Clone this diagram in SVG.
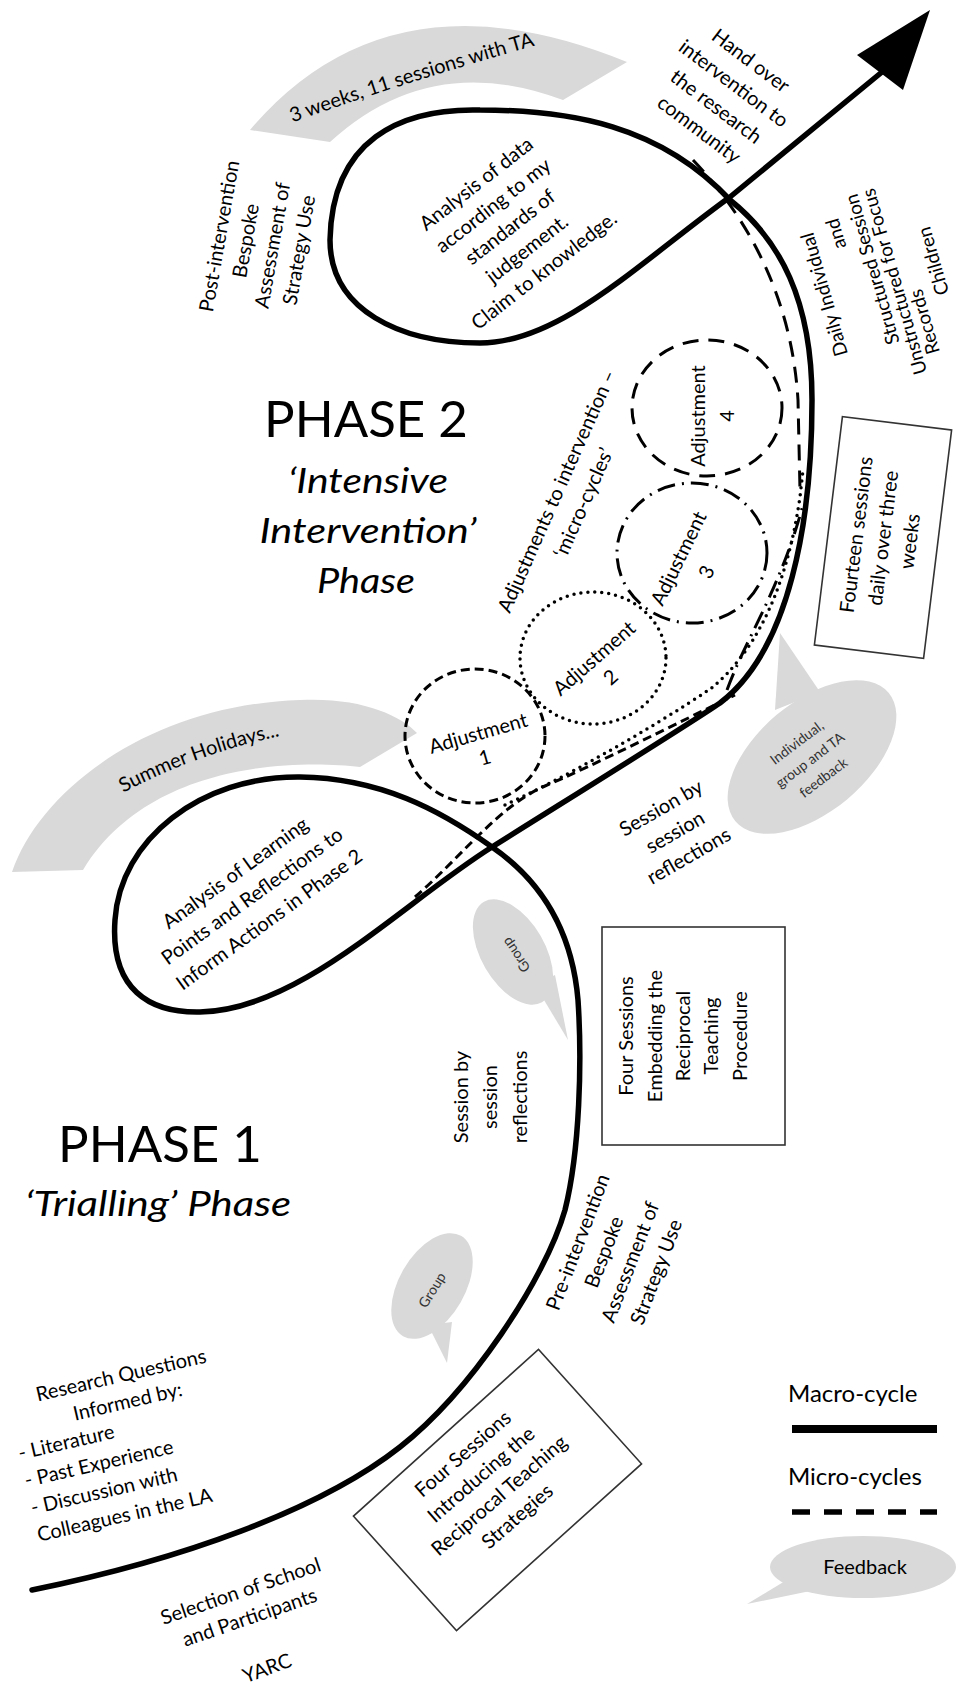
<svg xmlns="http://www.w3.org/2000/svg" width="958" height="1686" viewBox="0 0 958 1686">
<style>
text{font-family:Lato,"Liberation Sans",sans-serif;fill:#000}
.t{font-size:20px;text-anchor:middle}
.tl{font-size:20px}
.big{font-size:51px;text-anchor:middle}
.it{font-size:35px;font-style:italic;text-anchor:middle}
.sm{font-size:14px;text-anchor:middle;fill:#333}
.gray{fill:#d9d9d9}
.macro{fill:none;stroke:#000;stroke-width:5.5;stroke-linejoin:round;stroke-linecap:round}
.box{fill:#fff;stroke:#333;stroke-width:1.6}
.m{fill:none;stroke:#000;stroke-width:3}
.d1{stroke-dasharray:9 5}
.d2{stroke-dasharray:0 7;stroke-linecap:round;stroke-width:3.5}
.d3{stroke-dasharray:18 7 2 7}
.d4{stroke-dasharray:16 10}
</style>
<defs>
<path id="arcTop" d="M280,127 Q410,80 548,42"/>
<path id="arcSummer" d="M110,800 Q195,752 295,733"/>
</defs>

<g id="band-top">
<path class="gray" d="M250,130 Q390,-35 627,62 L563,100 Q430,50 330,142 Z"/>
<text class="t"><textPath href="#arcTop" startOffset="50%">3 weeks, 11 sessions with TA</textPath></text>
</g>

<g id="band-summer">
<path class="gray" d="M12,872 C40,790 150,705 300,700 C360,697 400,715 417,733 L360,767 C300,760 150,760 83,870 Z"/>
<text class="t"><textPath href="#arcSummer" startOffset="50%">Summer Holidays...</textPath></text>
</g>

<g id="bubble-feedback-main">
<ellipse class="gray" cx="812" cy="757" rx="100" ry="55" transform="rotate(-40 812 757)"/>
<polygon class="gray" points="775,710 780,633 820,692"/>
<g transform="translate(810,760) rotate(-37)">
<text class="sm" y="-17">Individual,</text>
<text class="sm" y="5">group and TA</text>
<text class="sm" y="27">feedback</text>
</g>
</g>

<g id="bubble-group-upper">
<ellipse class="gray" cx="513" cy="952" rx="58" ry="32" transform="rotate(60 513 952)"/>
<polygon class="gray" points="535,985 568,1040 555,975"/>
<text class="sm" transform="translate(516,955) rotate(-124)" y="5">Group</text>
</g>

<g id="bubble-group-lower">
<ellipse class="gray" cx="432" cy="1286" rx="58" ry="33" transform="rotate(-60 432 1286)"/>
<polygon class="gray" points="428,1325 447,1363 452,1322"/>
<text class="sm" transform="translate(432,1290) rotate(-58)" y="5">Group</text>
</g>

<g id="connectors">
<path class="macro" d="M32,1590 C180,1560 320,1510 400,1447 C470,1392 545,1280 565,1210 C580,1150 582,1060 578,1000 C572,930 540,880 492,847 C440,810 380,778 300,777 C200,776 120,840 115,920 C110,990 150,1013 200,1012 C300,1010 400,905 492,847 C570,798 680,730 720,703 C790,650 812,520 812,400 C812,300 780,240 730,200 C660,125 570,110 480,110 C400,108 332,140 330,240 C330,310 400,343 480,343 C560,343 640,262 730,197 L882,72"/>
<polygon points="930,10 857,55 903,90" fill="#000"/>
<path class="m d1" d="M415,897 C460,858 500,805 545,786 S680,722 735,695"/>
<path class="m d2" d="M505,805 C560,780 650,730 713,687 C750,655 785,600 800,497 L803,470"/>
<path class="m d3" d="M727,690 C745,640 780,590 803,505"/>
<path class="m d4" d="M693,160 C750,220 792,300 798,400 L800,490"/>
</g>

<g id="adj1">
<ellipse class="m d1" cx="475" cy="736" rx="70" ry="67"/>
<g transform="translate(480,740) rotate(-16)">
<text class="t" y="0">Adjustment</text>
<text class="t" y="25">1</text>
</g>
</g>
<g id="adj2">
<ellipse class="m d2" cx="593" cy="658" rx="73" ry="66"/>
<g transform="translate(600,665) rotate(-41)">
<text class="t" y="-2">Adjustment</text>
<text class="t" y="23">2</text>
</g>
</g>
<g id="adj3">
<ellipse class="m d3" cx="692" cy="553" rx="75" ry="70"/>
<g transform="translate(692,565) rotate(-64)">
<text class="t" y="-8">Adjustment</text>
<text class="t" y="23">3</text>
</g>
</g>
<g id="adj4">
<ellipse class="m d4" cx="707" cy="408" rx="75" ry="68"/>
<g transform="translate(712,416) rotate(-90)">
<text class="t" y="-7">Adjustment</text>
<text class="t" y="22">4</text>
</g>
</g>

<g id="post-intervention" transform="translate(259,243) rotate(-80)">
<text class="t" y="-33.5">Post-intervention</text>
<text class="t" y="-6.5">Bespoke</text>
<text class="t" y="20.5">Assessment of</text>
<text class="t" y="47.5">Strategy Use</text>
</g>

<g id="analysis-data" transform="translate(510,227) rotate(-38)">
<text class="t" y="-48">Analysis of data</text>
<text class="t" y="-20.5">according to my</text>
<text class="t" y="7">standards of</text>
<text class="t" y="34.5">judgement.</text>
<text class="t" y="62">Claim to knowledge.</text>
</g>

<g id="hand-over" transform="translate(725,95) rotate(37)">
<text class="t" y="-36">Hand over</text>
<text class="t" y="-7.5">intervention to</text>
<text class="t" y="21.5">the research</text>
<text class="t" y="50">community</text>
</g>

<g id="daily-records" transform="translate(878,277) rotate(-106)" style="font-size:19px">
<text class="t" style="font-size:19px" x="-2" y="-50">Daily Individual</text>
<text class="t" style="font-size:19px" x="53" y="-22">and</text>
<text class="t" style="font-size:19px" x="9" y="3">Structured Session</text>
<text class="t" style="font-size:19px" x="-9" y="21">Unstructured for Focus</text>
<text class="t" style="font-size:19px" x="-56" y="39">Records</text>
<text class="t" style="font-size:19px" x="0" y="64">Children</text>
</g>

<g id="phase2">
<text class="big" x="366" y="437">PHASE 2</text>
<text class="it" x="368" y="493" textLength="160" lengthAdjust="spacingAndGlyphs">‘Intensive</text>
<text class="it" x="368" y="543" textLength="217" lengthAdjust="spacingAndGlyphs">Intervention’</text>
<text class="it" x="366" y="593" textLength="98" lengthAdjust="spacingAndGlyphs">Phase</text>
</g>

<g id="adjustments-label" transform="translate(570,497) rotate(-66)">
<text class="t" y="-7.5">Adjustments to intervention –</text>
<text class="t" y="21.5">‘micro-cycles’</text>
</g>

<g id="fourteen">
<rect class="box" x="-55" y="-115" width="110" height="230" transform="translate(883,537.5) rotate(7)"/>
<g transform="translate(883,538) rotate(-83)">
<text class="t" y="-20">Fourteen sessions</text>
<text class="t" y="7">daily over three</text>
<text class="t" y="34">weeks</text>
</g>
</g>

<g id="analysis-learning" transform="translate(252,896) rotate(-36)">
<text class="t" y="-21.5">Analysis of Learning</text>
<text class="t" y="7">Points and Reflections to</text>
<text class="t" y="36">Inform Actions in Phase 2</text>
</g>

<g id="session-upper" transform="translate(675,832) rotate(-30)">
<text class="t" y="-21">Session by</text>
<text class="t" y="7">session</text>
<text class="t" y="34.5">reflections</text>
</g>

<g id="four-embedding">
<rect class="box" x="602" y="927" width="183" height="218"/>
<g transform="translate(683,1036) rotate(-90)">
<text class="t" y="-49.6">Four Sessions</text>
<text class="t" y="-21.3">Embedding the</text>
<text class="t" y="7">Reciprocal</text>
<text class="t" y="35.3">Teaching</text>
<text class="t" y="63.6">Procedure</text>
</g>
</g>

<g id="session-lower" transform="translate(490,1097) rotate(-90)">
<text class="t" y="-22.5">Session by</text>
<text class="t" y="7">session</text>
<text class="t" y="36.5">reflections</text>
</g>

<g id="pre-intervention" transform="translate(617,1257) rotate(-69)">
<text class="t" y="-35">Pre-intervention</text>
<text class="t" y="-7">Bespoke</text>
<text class="t" y="21">Assessment of</text>
<text class="t" y="49">Strategy Use</text>
</g>

<g id="phase1">
<text class="big" x="160" y="1162">PHASE 1</text>
<text class="it" x="158" y="1216" textLength="266" lengthAdjust="spacingAndGlyphs">‘Trialling’ Phase</text>
</g>

<g id="research-questions" transform="translate(20,1460) rotate(-13)">
<text class="t" x="117.5" y="-53">Research Questions</text>
<text class="t" x="118" y="-26">Informed by:</text>
<text class="tl" x="0" y="0">- Literature</text>
<text class="tl" x="0" y="28">- Past Experience</text>
<text class="tl" x="0" y="56">- Discussion with</text>
<text class="tl" x="0" y="84">Colleagues in the LA</text>
</g>

<g id="selection" transform="translate(245,1604) rotate(-19)">
<text class="t" y="-6.6">Selection of School</text>
<text class="t" y="21">and Participants</text>
</g>
<text id="yarc" class="t" transform="translate(267,1668) rotate(-20)" y="7">YARC</text>

<g id="four-introducing">
<rect class="box" x="-124.5" y="-77" width="249" height="154" transform="translate(497.5,1490) rotate(-42)"/>
<g transform="translate(490,1485) rotate(-41)">
<text class="t" y="-34.4">Four Sessions</text>
<text class="t" y="-6.8">Introducing the</text>
<text class="t" y="20.8">Reciprocal Teaching</text>
<text class="t" y="48.4">Strategies</text>
</g>
</g>

<g id="legend">
<text x="788" y="1402" style="font-size:24px">Macro-cycle</text>
<line x1="792" y1="1429" x2="937" y2="1429" stroke="#000" stroke-width="8"/>
<text x="788" y="1485" style="font-size:24px">Micro-cycles</text>
<line x1="792" y1="1512" x2="937" y2="1512" stroke="#000" stroke-width="5.5" stroke-dasharray="18 14"/>
<ellipse class="gray" cx="863" cy="1567" rx="93" ry="31"/>
<polygon class="gray" points="790,1578 747,1604 815,1590"/>
<text x="865" y="1574" style="font-size:20px;text-anchor:middle">Feedback</text>
</g>
</svg>
